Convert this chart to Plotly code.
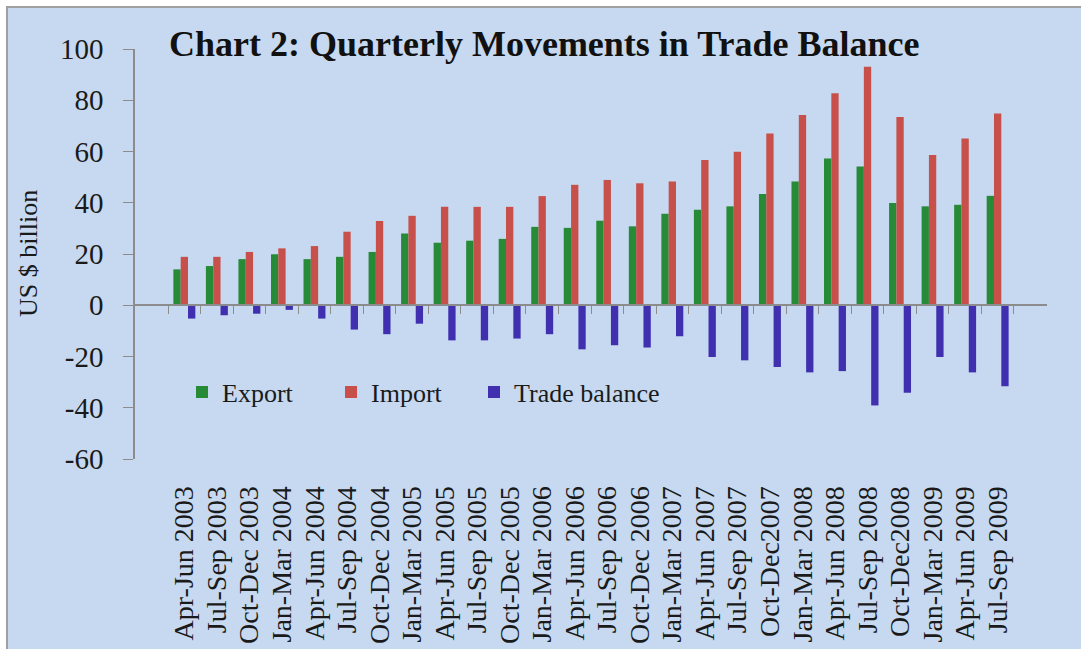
import plotly.graph_objects as go

quarters = ["Apr-Jun 2003", "Jul-Sep 2003", "Oct-Dec 2003", "Jan-Mar 2004",
            "Apr-Jun 2004", "Jul-Sep 2004", "Oct-Dec 2004", "Jan-Mar 2005",
            "Apr-Jun 2005", "Jul-Sep 2005", "Oct-Dec 2005", "Jan-Mar 2006",
            "Apr-Jun 2006", "Jul-Sep 2006", "Oct-Dec 2006", "Jan-Mar 2007",
            "Apr-Jun 2007", "Jul-Sep 2007", "Oct-Dec2007", "Jan-Mar 2008",
            "Apr-Jun 2008", "Jul-Sep 2008", "Oct-Dec2008", "Jan-Mar 2009",
            "Apr-Jun 2009", "Jul-Sep 2009"]

export = [14.0, 15.3, 18.0, 19.9, 18.0, 18.9, 20.8, 28.0, 24.4, 25.2, 25.9, 30.6,
          30.2, 33.0, 30.8, 35.7, 37.3, 38.6, 43.4, 48.3, 57.3, 54.1, 39.9, 38.6,
          39.2, 42.7]
imports = [18.9, 18.9, 20.8, 22.2, 23.1, 28.7, 32.9, 34.9, 38.4, 38.4, 38.4, 42.6,
           47.0, 48.9, 47.6, 48.3, 56.7, 59.9, 67.0, 74.2, 82.7, 93.1, 73.5, 58.6,
           65.1, 74.8]
trade_balance = [-5.2, -3.9, -3.3, -1.8, -5.2, -9.5, -11.3, -7.2, -13.7, -13.7, -13.0, -11.3,
                 -17.2, -15.6, -16.5, -12.1, -20.2, -21.5, -24.1, -26.2, -25.7, -39.1, -34.1, -20.2,
                 -26.2, -31.6]

y_ticks = [-60, -40, -20, 0, 20, 40, 60, 80, 100]
y_tick_text = ["-60", "-40", "-20", "0", "20", "40", "60", "80", "100"]

W, H = 1081, 649
ML, MR, MT, MB = 135, 34, 49, 190
PW, PH = W - ML - MR, H - MT - MB


def px_x(p):
    return (p - ML) / PW


def px_y(p):
    return (H - MB - p) / PH


serif = "Liberation Serif, Times New Roman, serif"
axis_grey = "#8c8c8c"
text_col = "#1a1a1a"

fig = go.Figure()
fig.add_trace(go.Bar(name="Export", x=quarters, y=export, marker_color="#278A36",
                     marker_line_width=0, legend="legend"))
fig.add_trace(go.Bar(name="Import", x=quarters, y=imports, marker_color="#C8504B",
                     marker_line_width=0, legend="legend2"))
fig.add_trace(go.Bar(name="Trade balance", x=quarters, y=trade_balance, marker_color="#4030B0",
                     marker_line_width=0, legend="legend3"))

ymin, ymax = -60, 100
zero_pos = (0 - ymin) / (ymax - ymin)


def legend_at(xpix):
    return dict(orientation="h", x=px_x(xpix), y=px_y(392), xanchor="left", yanchor="middle",
                font=dict(size=26, family=serif, color=text_col),
                bgcolor="rgba(0,0,0,0)")


fig.update_layout(
    width=W, height=H,
    margin=dict(l=ML, r=MR, t=MT, b=MB, pad=0, autoexpand=False),
    paper_bgcolor="white",
    plot_bgcolor="rgba(0,0,0,0)",
    barmode="group",
    bargap=0.325,
    bargroupgap=0,
    font=dict(family=serif, color=text_col),
    showlegend=True,
    legend=legend_at(182),
    legend2=legend_at(331),
    legend3=legend_at(474),
    xaxis=dict(type="category", showline=False, showgrid=False, zeroline=False,
               automargin=False, tickmode="array", tickvals=quarters, ticktext=quarters,
               tickangle=-90, tickfont=dict(size=28, family=serif, color=text_col),
               ticks="outside", ticklen=15, tickcolor="rgba(0,0,0,0)",
               fixedrange=True),
    xaxis2=dict(matches="x", overlaying="x", anchor="free", position=zero_pos,
                side="bottom", showline=True, linecolor=axis_grey, linewidth=1.5,
                showgrid=False, zeroline=False, showticklabels=False, automargin=False,
                tickmode="array", tickvals=quarters,
                ticks="outside", tickson="boundaries", ticklen=8, tickcolor=axis_grey,
                tickwidth=1),
    yaxis=dict(range=[ymin, ymax], tickvals=y_ticks, ticktext=y_tick_text,
               showgrid=False, zeroline=False, automargin=False,
               showline=True, linecolor=axis_grey, linewidth=1.5,
               ticks="outside", ticklen=10, tickcolor=axis_grey, ticklabelstandoff=14,
               tickfont=dict(size=29, family=serif, color=text_col)),
    shapes=[dict(type="rect", xref="paper", yref="paper", layer="below",
                 x0=px_x(7), x1=px_x(W + 20), y0=px_y(H + 20), y1=px_y(7),
                 fillcolor="#C6D9F0", line=dict(color="#a0a0a0", width=2))],
    annotations=[
        dict(text="<b>Chart 2: Quarterly Movements in Trade Balance</b>",
             xref="paper", yref="paper", x=px_x(544), y=px_y(44),
             xanchor="center", yanchor="middle", showarrow=False,
             font=dict(size=36, family=serif, color="#111111")),
        dict(text="US $ billion", xref="paper", yref="paper",
             x=px_x(28), y=px_y(254), xanchor="center", yanchor="middle",
             textangle=-90, showarrow=False,
             font=dict(size=26, family=serif, color=text_col)),
    ],
)

# invisible trace so the zero-line axis carries the same categories
fig.add_trace(go.Scatter(x=quarters, y=[0] * len(quarters), xaxis="x2", mode="markers",
                         marker=dict(opacity=0), showlegend=False, hoverinfo="skip"))

fig.write_html("out.html", config={"displayModeBar": False, "staticPlot": False},
               post_script="document.body.style.margin='0';document.body.style.overflow='hidden';")
